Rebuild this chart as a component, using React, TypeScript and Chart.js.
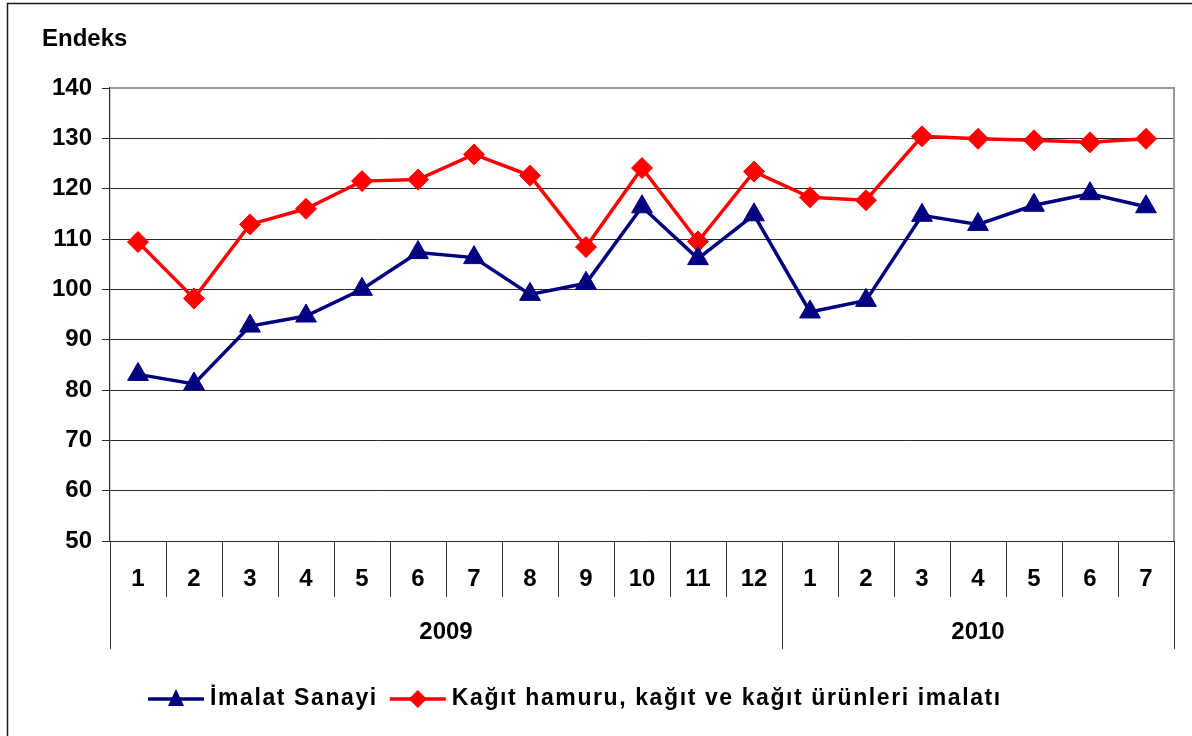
import React, { useEffect, useRef } from "react";
import { Chart, registerables } from "chart.js";

Chart.register(...registerables);

const months = ["1", "2", "3", "4", "5", "6", "7", "8", "9", "10", "11", "12", "1", "2", "3", "4", "5", "6", "7"];
const yearLabels = ["2009", "2010"];
const yearCounts = [12, 7];
const imalatSanayi = [83.1, 81.2, 92.7, 94.7, 100.0, 107.3, 106.3, 99.0, 101.2, 116.4, 106.1, 114.8, 95.5, 97.8, 114.7, 112.9, 116.7, 119.0, 116.4];
const kagitUrunleri = [109.4, 98.2, 112.9, 116.0, 121.5, 121.8, 126.8, 122.6, 108.4, 124.1, 109.5, 123.4, 118.3, 117.7, 130.4, 129.9, 129.6, 129.2, 129.9];
const seriesNames = ["İmalat Sanayi", "Kağıt hamuru, kağıt ve kağıt ürünleri imalatı"];
const yAxisTitle = "Endeks";

const FONT = '"Liberation Sans", Arial, sans-serif';
const BLUE = "#000080";
const RED = "#ff0000";

const decorPlugin = {
  id: "decor",
  afterDraw(chart: any) {
    const ctx = chart.ctx as CanvasRenderingContext2D;
    const area = chart.chartArea;
    const xs = chart.scales.x;
    ctx.save();

    // outer frame
    ctx.strokeStyle = "#1a1a1a";
    ctx.lineWidth = 1.5;
    ctx.beginPath();
    ctx.moveTo(7.5, 800);
    ctx.lineTo(7.5, 3.5);
    ctx.lineTo(1300, 3.5);
    ctx.stroke();

    // plot top/right border (gray)
    ctx.strokeStyle = "#9a9a9a";
    ctx.lineWidth = 2;
    ctx.beginPath();
    ctx.moveTo(area.left, area.top);
    ctx.lineTo(area.right, area.top);
    ctx.lineTo(area.right, area.bottom);
    ctx.stroke();

    // category axis
    const half = (xs.getPixelForValue(1) - xs.getPixelForValue(0)) / 2;
    const sepBottom1 = area.bottom + 56;
    const sepBottom2 = area.bottom + 108;
    ctx.strokeStyle = "#333";
    ctx.lineWidth = 1;
    ctx.beginPath();
    for (let i = 1; i < months.length; i++) {
      const x = Math.round(xs.getPixelForValue(i) - half) + 0.5;
      ctx.moveTo(x, area.bottom);
      ctx.lineTo(x, sepBottom1);
    }
    // year separators
    let idx = 0;
    const edges: number[] = [];
    edges.push(xs.getPixelForValue(0) - half);
    yearCounts.forEach((c) => {
      idx += c;
      edges.push(xs.getPixelForValue(idx - 1) + half);
    });
    edges.forEach((e) => {
      const x = Math.round(e) + 0.5;
      ctx.moveTo(x, area.bottom);
      ctx.lineTo(x, sepBottom2);
    });
    ctx.stroke();

    ctx.fillStyle = "#000";
    ctx.font = `bold 24px ${FONT}`;
    ctx.textAlign = "center";
    ctx.textBaseline = "middle";
    months.forEach((m, i) => {
      ctx.fillText(m, xs.getPixelForValue(i), area.bottom + 38);
    });
    yearLabels.forEach((y, i) => {
      ctx.fillText(y, (edges[i] + edges[i + 1]) / 2, area.bottom + 91);
    });

    // y title
    ctx.textAlign = "left";
    ctx.fillText(yAxisTitle, 42, 39);

    // legend
    const ly = 699;
    let lx = 148;
    const styles = [
      { color: BLUE, shape: "tri" },
      { color: RED, shape: "dia" },
    ];
    ctx.font = `bold 23px ${FONT}`;
    (ctx as any).letterSpacing = "1.6px";
    styles.forEach((s, i) => {
      ctx.strokeStyle = s.color;
      ctx.fillStyle = s.color;
      ctx.lineWidth = 3.5;
      ctx.beginPath();
      ctx.moveTo(lx, ly);
      ctx.lineTo(lx + 56, ly);
      ctx.stroke();
      const cx = lx + 28;
      ctx.beginPath();
      if (s.shape === "tri") {
        ctx.moveTo(cx, ly - 10);
        ctx.lineTo(cx + 8, ly + 7);
        ctx.lineTo(cx - 8, ly + 7);
      } else {
        ctx.moveTo(cx, ly - 9);
        ctx.lineTo(cx + 9, ly);
        ctx.lineTo(cx, ly + 9);
        ctx.lineTo(cx - 9, ly);
      }
      ctx.closePath();
      ctx.fill();
      ctx.fillStyle = "#000";
      ctx.textAlign = "left";
      const tx = lx + 62;
      ctx.fillText(seriesNames[i], tx, ly);
      lx = tx + ctx.measureText(seriesNames[i]).width + 12;
    });
    ctx.restore();
  },
};

export default function App() {
  const ref = useRef<HTMLCanvasElement | null>(null);
  useEffect(() => {
    if (!ref.current) return;
    const chart = new Chart(ref.current, {
      type: "line",
      data: {
        labels: months,
        datasets: [
          {
            label: seriesNames[0],
            data: imalatSanayi,
            borderColor: BLUE,
            backgroundColor: BLUE,
            borderWidth: 3.5,
            pointStyle: "triangle",
            pointRadius: 12,
            pointBorderWidth: 1,
            pointBackgroundColor: BLUE,
            pointBorderColor: BLUE,
            tension: 0,
          },
          {
            label: seriesNames[1],
            data: kagitUrunleri,
            borderColor: RED,
            backgroundColor: RED,
            borderWidth: 3.5,
            pointStyle: "rectRot",
            pointRadius: 10.5,
            pointBorderWidth: 1,
            pointBackgroundColor: RED,
            pointBorderColor: RED,
            tension: 0,
          },
        ],
      },
      options: {
        responsive: true,
        maintainAspectRatio: false,
        animation: false,
        events: [],
        layout: { padding: { top: 88, right: 18, bottom: 195, left: 0 } },
        plugins: { legend: { display: false }, tooltip: { enabled: false }, title: { display: false } },
        scales: {
          x: { type: "category", display: false, offset: true },
          y: {
            min: 50,
            max: 140,
            afterFit: (s: any) => {
              s.width = 110;
            },
            ticks: {
              stepSize: 10,
              color: "#000",
              font: { family: FONT, size: 24, weight: "bold" },
              padding: 10,
            },
            grid: {
              color: (c: any) => (c.tick && c.tick.value === 140 ? "rgba(0,0,0,0)" : "#2a2a2a"),
              lineWidth: 1,
              tickColor: "#2a2a2a",
              tickLength: 8,
            },
            border: { color: "#2a2a2a", width: 1.2 },
          },
        },
      },
      plugins: [decorPlugin],
    });
    return () => chart.destroy();
  }, []);
  return (
    <div style={{ position: "absolute", left: 0, top: 0, width: 1192, height: 736, background: "#fff" }}>
      <canvas ref={ref} />
    </div>
  );
}
